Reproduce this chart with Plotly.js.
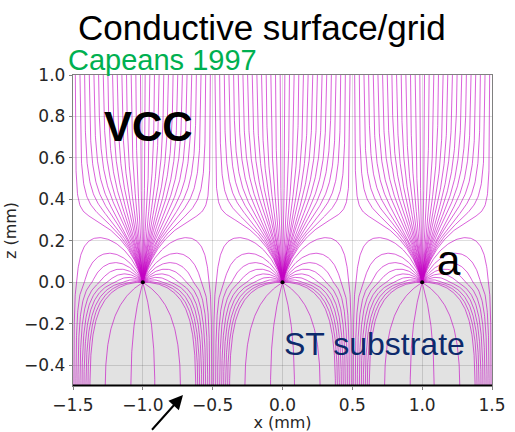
<!DOCTYPE html>
<html><head><meta charset="utf-8">
<script src="https://cdn.plot.ly/plotly-3.0.1.min.js"></script>
<style>html,body{margin:0;padding:0;background:#fff;} #chart{width:515px;height:432px;}</style>
</head><body><div id="chart"></div>
<script>
// ---------------- data (geometry of the chamber) ----------------
const anodeX = [-1.0, 0.0, 1.0];        // anode wire positions (mm)
const anodeZ = [0.0, 0.0, 0.0];
const pitch = 1.0;                       // anode pitch (mm)
const plotTopZ = 1.0;                    // conductive surface / grid shown at top (mm)
const driftPlaneZ = 2.5;                 // electrode height used for the field model (mm)
const backplaneZ = -0.5;                 // back side of substrate (mm)
const substrateEps = 2.5;                // relative permittivity of the substrate
const linesFromTop = 30;                 // field lines per pitch reaching the top surface
const loopLinesPerSide = 9;              // lines leaving the anode into the gas and returning to the substrate
const linesIntoSubstrate = 4;            // lines going straight into the substrate
const xTickVals = [-1.5, -1.0, -0.5, 0.0, 0.5, 1.0, 1.5];
const xTickText = ['\u22121.5', '\u22121.0', '\u22120.5', '0.0', '0.5', '1.0', '1.5'];
const zTickVals = [-0.4, -0.2, 0.0, 0.2, 0.4, 0.6, 0.8, 1.0];
const zTickText = ['\u22120.4', '\u22120.2', '0.0', '0.2', '0.4', '0.6', '0.8', '1.0'];

// ---------------- electrostatics: periodic line charges on a dielectric ----------------
const NK = 30;
const DT = driftPlaneZ, DB = -backplaneZ, P = pitch, EP = substrateEps;
const a0 = (1 / P) / (1 / DT + EP / DB);
const modes = [];
for (let k = 1; k <= NK; k++) {
  const kp = 2 * Math.PI * k / P;
  const coth = (v) => 1 / Math.tanh(v);
  const ak = (2 / P) / (kp * (coth(kp * DT) + EP * coth(kp * DB)));
  const sk = 2 / (P * kp * (1 + EP));
  modes.push({kp, ak, sk, nt: 1 - Math.exp(-2 * kp * DT), nb: 1 - Math.exp(-2 * kp * DB)});
}
function field(x, z) {
  const a = 2 * Math.PI * x / P, b = 2 * Math.PI * z / P;
  const den = (Math.cosh(b) - Math.cos(a)) * (1 + EP) * P;
  let Ex = Math.sin(a) / den, Ez = Math.sinh(b) / den;
  if (z >= 0) Ez += a0 / DT - 1 / (P * (1 + EP));
  else Ez += -(a0 / DB - 1 / (P * (1 + EP)));
  for (const m of modes) {
    const kp = m.kp;
    let r, dr;
    if (z >= 0) {
      const e1 = Math.exp(-kp * z), e2 = Math.exp(-kp * (2 * DT - z));
      const A = m.ak * (e1 - e2) / m.nt, dA = -m.ak * kp * (e1 + e2) / m.nt;
      const S = m.sk * e1, dS = -kp * S;
      r = A - S; dr = dA - dS;
    } else {
      const u = -z;
      const e1 = Math.exp(-kp * u), e2 = Math.exp(-kp * (2 * DB - u));
      const A = m.ak * (e1 - e2) / m.nb, dA = m.ak * kp * (e1 + e2) / m.nb;
      const S = m.sk * e1, dS = kp * S;
      r = A - S; dr = dA - dS;
    }
    Ex += r * kp * Math.sin(kp * x);
    Ez += -dr * Math.cos(kp * x);
  }
  return [Ex, Ez];
}
function dir(x, z, sgn) {
  const e = field(x, z); const n = Math.hypot(e[0], e[1]) || 1;
  return [sgn * e[0] / n, sgn * e[1] / n];
}
// integrate along the field (sgn=+1) or against it (sgn=-1)
function integrate(x, z, sgn) {
  const xs = [x], zs = [z];
  const h = 0.004;
  for (let i = 0; i < 3000; i++) {
    const k1 = dir(x, z, sgn);
    const k2 = dir(x + h / 2 * k1[0], z + h / 2 * k1[1], sgn);
    const k3 = dir(x + h / 2 * k2[0], z + h / 2 * k2[1], sgn);
    const k4 = dir(x + h * k3[0], z + h * k3[1], sgn);
    const nx = x + h / 6 * (k1[0] + 2 * k2[0] + 2 * k3[0] + k4[0]);
    const nz = z + h / 6 * (k1[1] + 2 * k2[1] + 2 * k3[1] + k4[1]);
    if (nz >= plotTopZ) { const t = (plotTopZ - z) / (nz - z); xs.push(x + t * (nx - x)); zs.push(plotTopZ); break; }
    if (nz <= backplaneZ) { const t = (backplaneZ - z) / (nz - z); xs.push(x + t * (nx - x)); zs.push(backplaneZ); break; }
    x = nx; z = nz;
    const xr = x - Math.round(x / P) * P;
    if (sgn < 0 && Math.hypot(xr, z) < 0.006) { xs.push(x - xr); zs.push(0); break; }
    if (i % 2 === 0) { xs.push(x); zs.push(z); }
  }
  return [xs, zs];
}
const baseLines = [];
// lines that reach the top surface, evenly spaced there, followed back to the anode
for (let i = 0; i < linesFromTop; i++) {
  const x0 = -P / 2 + P * (i + 0.5) / linesFromTop;
  baseLines.push(integrate(x0, plotTopZ - 1e-6, -1));
}
// cone half-angle of the flux that reaches the top
const thetaC = (a0 / DT) * (1 + EP) * P * Math.PI / 2;
const r0 = 0.004;
for (let s = -1; s <= 1; s += 2) {
  for (let i = 0; i < loopLinesPerSide; i++) {
    const th = thetaC + (Math.PI / 2 - thetaC) * (i + 0.5) / loopLinesPerSide;
    const L = integrate(s * r0 * Math.sin(th), r0 * Math.cos(th), 1);
    L[0].unshift(0); L[1].unshift(0);
    baseLines.push(L);
  }
}
for (let i = 0; i < linesIntoSubstrate; i++) {
  const th = -Math.PI / 2 + Math.PI * (i + 0.5) / linesIntoSubstrate;
  const L = integrate(r0 * Math.sin(th), -r0 * Math.cos(th), 1);
  L[0].unshift(0); L[1].unshift(0);
  baseLines.push(L);
}

const traces = [];
anodeX.forEach((ax, j) => {
  const X = [], Z = [];
  baseLines.forEach(([xs, zs]) => {
    for (let i = 0; i < xs.length; i++) { X.push(xs[i] + ax); Z.push(zs[i] + anodeZ[j]); }
    X.push(null); Z.push(null);
  });
  traces.push({type: 'scatter', mode: 'lines', x: X, y: Z, hoverinfo: 'skip',
    line: {color: 'rgba(195,0,195,0.62)', width: 1}, connectgaps: false});
});
traces.push({type: 'scatter', mode: 'markers', x: anodeX, y: anodeZ, hoverinfo: 'skip',
  marker: {color: '#000', size: 4}});

const tickFont = {family: 'DejaVu Sans', size: 17, color: '#262626'};
const titleFont = {family: 'DejaVu Sans', size: 16, color: '#262626'};
const layout = {
  width: 515, height: 432,
  margin: {l: 73, r: 23, t: 75, b: 46},
  paper_bgcolor: '#fff', plot_bgcolor: '#fff', showlegend: false,
  xaxis: {range: [-1.5, 1.5], tickmode: 'array', tickvals: xTickVals, ticktext: xTickText,
    showgrid: true, gridcolor: 'rgba(0,0,0,0.13)', gridwidth: 1, zeroline: false,
    showline: true, linecolor: '#808080', linewidth: 1.2, mirror: true,
    ticks: 'outside', ticklen: 3, tickcolor: '#808080', tickfont: tickFont,
    title: {text: 'x (mm)', font: titleFont, standoff: 3}},
  yaxis: {range: [-0.5, 1.0], tickmode: 'array', tickvals: zTickVals, ticktext: zTickText,
    showgrid: true, gridcolor: 'rgba(0,0,0,0.13)', gridwidth: 1, zeroline: false,
    showline: true, linecolor: '#808080', linewidth: 1.2, mirror: true,
    ticks: 'outside', ticklen: 3, tickcolor: '#808080', tickfont: tickFont,
    title: {text: 'z (mm)', font: titleFont, standoff: 3}},
  shapes: [
    {type: 'rect', xref: 'x', yref: 'y', x0: -1.5, x1: 1.5, y0: backplaneZ, y1: 0,
      fillcolor: '#e2e2e2', line: {width: 0}, layer: 'below'},
    {type: 'line', xref: 'paper', yref: 'y', x0: 0, x1: 1, y0: backplaneZ, y1: backplaneZ,
      line: {color: '#000', width: 3}, layer: 'above'}
  ],
  annotations: [
    {text: 'Conductive surface/grid', xref: 'paper', yref: 'paper', x: 0.451, y: 1.152,
      xanchor: 'center', yanchor: 'middle', showarrow: false,
      font: {family: 'Liberation Sans, Arial', size: 35, color: '#000'}},
    {text: 'Capeans 1997', xref: 'paper', yref: 'paper', x: -0.017, y: 1.048,
      xanchor: 'left', yanchor: 'middle', showarrow: false,
      font: {family: 'Liberation Sans, Arial', size: 29, color: '#00b050'}},
    {text: '<b>VCC</b>', xref: 'paper', yref: 'paper', x: 0.179, y: 0.836,
      xanchor: 'center', yanchor: 'middle', showarrow: false,
      font: {family: 'Liberation Sans, Arial', size: 42, color: '#000'}},
    {text: 'a', xref: 'paper', yref: 'paper', x: 0.897, y: 0.405,
      xanchor: 'center', yanchor: 'middle', showarrow: false,
      font: {family: 'Liberation Sans, Arial', size: 42, color: '#000'}},
    {text: 'ST substrate', xref: 'paper', yref: 'paper', x: 0.719, y: 0.135,
      xanchor: 'center', yanchor: 'middle', showarrow: false,
      font: {family: 'Liberation Sans, Arial', size: 32, color: '#0d2a6b'}},
    {text: ' ', xref: 'paper', yref: 'paper', x: 0.2625, y: -0.029,
      showarrow: true, ax: -33, ay: 40, arrowhead: 2, arrowsize: 1.4, arrowwidth: 2,
      arrowcolor: '#000', font: {size: 2}}
  ]
};
Plotly.newPlot('chart', traces, layout, {staticPlot: true, displayModeBar: false});
</script></body></html>
